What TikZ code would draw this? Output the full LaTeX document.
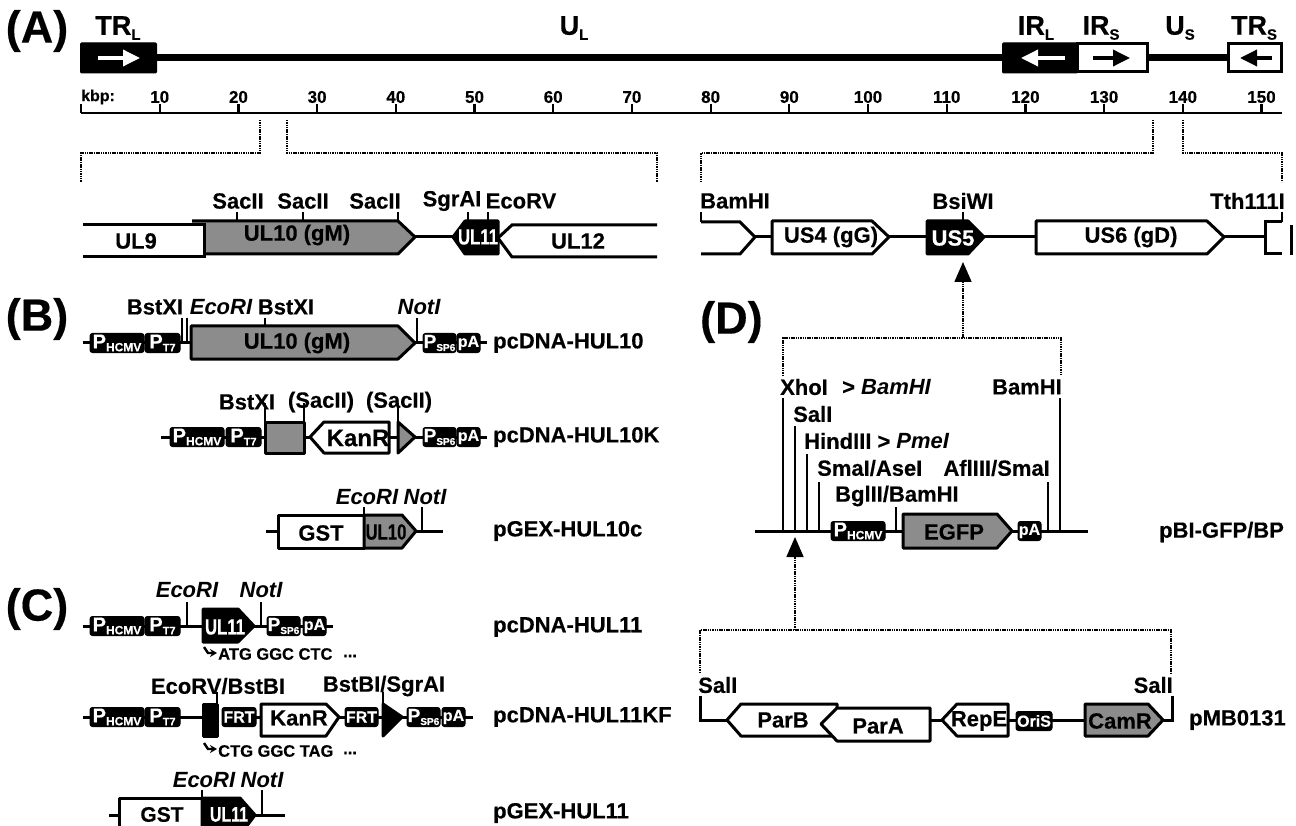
\documentclass[tikz,border=0pt]{standalone}
\usepackage{fontspec}
\setmainfont{Liberation Sans}[BoldFeatures={FakeBold=0.35}]
\newfontfamily\narrowf[FakeStretch=0.76,BoldFeatures={FakeStretch=0.76,FakeBold=0.35}]{Liberation Sans}
\usetikzlibrary{arrows.meta}
\newcount\nodeno
\newcommand\fs[1]{\fontsize{#1}{#1}\selectfont}
% generic text node: options, position, text
\newcommand\T[3][]{\global\advance\nodeno by 1
  \node[txt,#1] (t\the\nodeno) at (#2) {#3};}
% black rounded element: x1,x2,y,text
\newcommand\Bx[4]{\global\advance\nodeno by 1
  \node[blackbox,minimum width=#2pt-#1pt] (t\the\nodeno) at ({(#1+#2)/2},#3) {#4};}
\newcommand\PH[2]{\Bx{#1}{#1+54}{#2}{\fs{20}P\fs{12}\raisebox{-3pt}{HCMV}}}
\newcommand\PT[2]{\Bx{#1}{#1+35}{#2}{\fs{20}P\fs{11}\raisebox{-3pt}{T7}}}
\newcommand\PS[2]{\Bx{#1}{#1+33}{#2}{\fs{19}P\fs{10}\raisebox{-3pt}{SP6}}}
\newcommand\PA[2]{\Bx{#1}{#1+23}{#2}{\fs{16}pA}}
\tikzset{
  txt/.style={inner sep=0pt,font=\bfseries\fs{22},text=black},
  ital/.style={font=\bfseries\itshape\fs{22}},
  big/.style={font=\bfseries\fs{45}},
  top/.style={font=\bfseries\fs{27}},
  gt/.style={font=\bfseries\fs{22}},
  num/.style={font=\bfseries\fs{17}},
  sq/.style={font=\bfseries\fs{16.5},anchor=west},
  wt/.style={text=white},
  nr/.style={font=\bfseries\narrowf\fs{22}},
  blackbox/.style={fill=black,draw=black,rounded corners=2.5pt,line width=1pt,text=white,
     minimum height=19pt,inner sep=0pt,font=\bfseries},
  wire/.style={line width=3pt,line cap=butt},
  tick/.style={line width=2.2pt},
  genew/.style={draw=black,fill=white,line width=3pt,line join=round},
  geneg/.style={draw=black,fill=gry,line width=3pt,line join=round},
  geneb/.style={draw=black,fill=black,line width=3pt,line join=round},
  dots/.style={line width=1.7pt,dash pattern=on 1.5pt off 0.8pt},
  uparrow/.style={-{Triangle[length=20pt,width=17pt,fill=black]}},
}
\definecolor{gry}{HTML}{8C8C8C}
\begin{document}
\begin{tikzpicture}[x=1pt,y=-1pt]
\useasboundingbox (0,0) rectangle (1296,826);
\clip (0,0) rectangle (1296,826);
% ---------- panel letters
\T[big]{37,31}{(A)}
\T[big]{37,319}{(B)}
\T[big]{37,609}{(C)}
\T[big,anchor=west]{700,322}{(D)}
% ---------- genome map
\coordinate (ga) at (157,58); \coordinate (gb) at (1229,58);
\draw[line width=7pt] (ga) -- (gb);
\node[fill=black,draw=black,line width=1pt,rounded corners=1pt,minimum width=76pt,minimum height=30pt,inner sep=0] (trl) at (118.5,58) {};
\node[fill=black,draw=black,line width=1pt,rounded corners=1pt,minimum width=75pt,minimum height=30pt,inner sep=0] (irl) at (1040,58) {};
\node[fill=white,draw=black,line width=3pt,minimum width=70pt,minimum height=28pt,inner sep=0] (irs) at (1112,58) {};
\node[fill=white,draw=black,line width=3pt,minimum width=53pt,minimum height=28pt,inner sep=0] (trs) at (1255,58) {};
\begin{scope}[line width=3.5pt]
\draw[white,-{Triangle[length=17pt,width=16pt,fill=white]}] (98,58) -- (140,58);
\draw[white,-{Triangle[length=17pt,width=16pt,fill=white]}] (1065,58) -- (1021,58);
\draw[black,-{Triangle[length=17pt,width=16pt,fill=black]}] (1093,58) -- (1130,58);
\draw[black,-{Triangle[length=17pt,width=16pt,fill=black]}] (1272,58) -- (1240,58);
\end{scope}
\T[top]{118,28}{TR\fs{15}\raisebox{-5pt}{L}}
\T[top]{574,28}{U\fs{15}\raisebox{-5pt}{L}}
\T[top]{1036,28}{IR\fs{15}\raisebox{-5pt}{L}}
\T[top]{1101,28}{IR\fs{15}\raisebox{-5pt}{S}}
\T[top]{1180,28}{U\fs{15}\raisebox{-5pt}{S}}
\T[top]{1254,28}{TR\fs{15}\raisebox{-5pt}{S}}
% ---------- scale
\coordinate (s0) at (81,113); \coordinate (s1) at (1282,113);
\draw[tick] (s0) -- (s1);
\draw[tick] (81,104) -- (s0);
\T[font=\bfseries\fs{16},anchor=west]{81,97}{kbp:}
\foreach \k/\lbl in {1/10,2/20,3/30,4/40,5/50,6/60,7/70,8/80,9/90,10/100,11/110,12/120,13/130,14/140,15/150}{
  \draw[tick] ({81+78.7*\k},104) -- ({81+78.7*\k},113);
  \T[num]{{81+78.7*\k},97}{\lbl}
}
% ---------- dotted brackets A
\coordinate (b1) at (260,120); \coordinate (b1a) at (81,182);
\coordinate (b2) at (287,120); \coordinate (b2a) at (657,182);
\coordinate (b3) at (1153,120); \coordinate (b3a) at (701,182);
\coordinate (b4) at (1183,120); \coordinate (b4a) at (1282,182);
\draw[dots] (b1) |- (170,153) -| (b1a);
\draw[dots] (b2) |- (470,153) -| (b2a);
\draw[dots] (b3) |- (930,153) -| (b3a);
\draw[dots] (b4) |- (1230,153) -| (b4a);
% ---------- UL row
\draw[wire] (415,237) -- (453,237);
\draw[geneg] (192,221) -- (398,221) -- (415,237) -- (398,254) -- (192,254);
\fill[white] (83,224) rectangle (204,258);
\draw[line width=3pt,line join=miter] (83,225) -- (204,225) -- (204,257) -- (83,257);
\draw[geneb] (453,237) -- (465,221) -- (498,221) -- (498,254) -- (465,254) -- cycle;
\fill[white] (498,238) -- (512,224) -- (657,224) -- (657,258) -- (512,258) -- cycle;
\draw[line width=3pt,line join=miter] (657,225) -- (512,225) -- (498,238) -- (512,257) -- (657,257);
\T[gt]{136,241}{UL9}
\T[gt]{297,235}{UL10 (gM)}
\T[nr,wt]{478,237}{UL11}
\T[gt]{578,241}{UL12}
\foreach \x in {237,303,398,468,488}{\draw[tick] (\x,212) -- (\x,221);}
\T{238,201}{SacII}
\T{303,201}{SacII}
\T{375,201}{SacII}
\T{452,201}{SgrAI}
\T{521,201}{EcoRV}
% ---------- US row
\draw[wire] (755,237) -- (1265,237);
\draw[line width=3pt,line join=miter] (701,222) -- (740,222) -- (755,237) -- (740,254) -- (701,254);
\draw[genew] (772,221) -- (872,221) -- (889,237) -- (872,254) -- (772,254) -- cycle;
\draw[geneb] (927,221) -- (968,221) -- (984,237) -- (968,254) -- (927,254) -- cycle;
\draw[genew] (1036,221) -- (1207,221) -- (1224,237) -- (1207,254) -- (1036,254) -- cycle;
\draw[line width=3pt,line join=miter] (1282,222) -- (1265,222) -- (1265,254) -- (1282,254);
\draw[line width=3pt] (1291,225) -- (1291,255);
\draw[tick] (701,212) -- (701,222);
\draw[tick] (963,212) -- (963,221);
\draw[tick] (1282,212) -- (1282,222);
\T[gt]{831,237}{US4 (gG)}
\T[gt,wt]{953,238}{US5}
\T[gt]{1131,237}{US6 (gD)}
\T[anchor=west]{700,201}{BamHI}
\T{963,201}{BsiWI}
\T[anchor=east]{1285,201}{Tth111I}
% ---------- row B1
\draw[wire] (83,343) -- (487,343);
\PH{90}{343}
\PT{145}{343}
\draw[tick] (182,318) -- (182,343);
\draw[tick] (187,318) -- (187,343);
\draw[geneg] (191,326) -- (398,326) -- (415,343) -- (398,359) -- (191,359) -- cycle;
\PS{423}{343}
\PA{457}{343}
\draw[tick] (265,318) -- (265,326);
\draw[tick] (417,318) -- (417,342);
\T[gt]{297,343}{UL10 (gM)}
\T{155,307}{BstXI}
\T[ital]{221,307}{EcoRI}
\T{286,307}{BstXI}
\T[ital]{419,307}{NotI}
\T[anchor=west]{493,343}{pcDNA-HUL10}
% ---------- row B2
\draw[wire] (161,437) -- (487,437);
\PH{170}{437}
\PT{226}{437}
\draw[geneg] (265,422) -- (304,422) -- (304,453) -- (265,453) -- cycle;
\draw[genew] (310,437) -- (324,422) -- (389,422) -- (389,453) -- (324,453) -- cycle;
\draw[geneg] (398,422) -- (415,437) -- (398,453) -- cycle;
\PS{423}{437}
\PA{457}{437}
\draw[tick] (265,403) -- (265,422);
\draw[tick] (304,403) -- (304,422);
\draw[tick] (398,403) -- (398,422);
\T{247,402}{BstXI}
\T{321,402}{(SacII)}
\T{399,402}{(SacII)}
\T[font=\bfseries\fs{24}]{358,438}{KanR}
\T[anchor=west]{493,437}{pcDNA-HUL10K}
% ---------- row B3
\draw[wire] (266,531) -- (443,531);
\draw[genew] (278,515) -- (364,515) -- (364,548) -- (278,548) -- cycle;
\draw[geneg] (364,515) -- (402,515) -- (416,531) -- (402,548) -- (364,548) -- cycle;
\draw[tick] (364,507) -- (364,515);
\draw[tick] (422,507) -- (422,531);
\T[gt]{321,533}{GST}
\T[nr]{386,532}{UL10}
\T[ital]{367,497}{EcoRI}
\T[ital]{425,497}{NotI}
\T[anchor=west]{493,531}{pGEX-HUL10c}
% ---------- row C1
\draw[wire] (83,626) -- (333,626);
\PH{90}{626}
\PT{145}{626}
\draw[geneb] (203,609) -- (238,609) -- (254,626) -- (238,642) -- (203,642) -- cycle;
\PS{267}{626}
\PA{303}{626}
\draw[tick] (187,602) -- (187,626);
\draw[tick] (261,602) -- (261,626);
\T[nr,wt]{225,627}{UL11}
\T[ital]{187,590}{EcoRI}
\T[ital]{261,590}{NotI}
\draw[line width=2.4pt,-{Stealth[length=7pt,width=8pt]}] (204,647) -- (208,653) -- (217,653);
\T[sq]{218,654}{ATG GGC CTC}
\T[sq]{343,656}{...}
\T[anchor=west]{493,627}{pcDNA-HUL11}
% ---------- row C2
\draw[wire] (83,717) -- (473,717);
\PH{90}{717}
\PT{145}{717}
\draw[geneb] (203,704) -- (217,704) -- (217,736) -- (203,736) -- cycle;
\fill[white] (219,700) rectangle (222,740);
\Bx{222}{256}{717}{\fs{16}FRT}
\draw[genew] (261,704) -- (326,704) -- (339,717) -- (326,736) -- (261,736) -- cycle;
\Bx{345}{378}{717}{\fs{16}FRT}
\draw[geneb] (383,704) -- (402,717) -- (383,736) -- cycle;
\PS{407}{717}
\PA{442}{717}
\draw[tick] (217,692) -- (217,704);
\draw[tick] (383,692) -- (383,704);
\T[gt]{299,718}{KanR}
\T{218,686}{EcoRV/BstBI}
\T{384,686}{BstBI/SgrAI}
\draw[line width=2.4pt,-{Stealth[length=7pt,width=8pt]}] (204,743) -- (208,749) -- (217,749);
\T[sq]{218,751}{CTG GGC TAG}
\T[sq]{343,753}{...}
\T[anchor=west]{493,717}{pcDNA-HUL11KF}
% ---------- row C3
\draw[wire] (109,815) -- (285,815);
\draw[genew] (119,798) -- (202,798) -- (202,835) -- (119,835) -- cycle;
\draw[geneb] (202,798) -- (240,798) -- (255,815) -- (240,835) -- (202,835) -- cycle;
\draw[tick] (202,790) -- (202,798);
\draw[tick] (262,790) -- (262,815);
\T[font=\bfseries\fs{21}]{162,814.5}{GST}
\T[nr,wt,font=\bfseries\narrowf\fs{21}]{229,814.5}{UL11}
\T[ital]{204,780}{EcoRI}
\T[ital]{262,780}{NotI}
\T[anchor=west]{493,813}{pGEX-HUL11}
% ---------- panel D vector
\draw[wire] (755,531) -- (1088,531);
\foreach \x/\y in {783/398,795/426,807/454,819/482,896/507,1048/482,1060/398}{\draw[tick] (\x,\y) -- (\x,531);}
\PH{831}{531}
\draw[geneg] (903,514) -- (997,514) -- (1012,531) -- (997,548) -- (903,548) -- cycle;
\PA{1018}{531}
\T[gt]{954,532}{EGFP}
\T[anchor=west]{780,387}{XhoI}
\T[anchor=west]{842,387}{> \itshape BamHI}
\T[anchor=east]{1062,387}{BamHI}
\T[anchor=west]{793,414}{SalI}
\T[anchor=west]{804,441}{HindIII > \itshape PmeI}
\T[anchor=west]{817,468}{SmaI/AseI}
\T[anchor=east]{1050,468}{AflIII/SmaI}
\T[anchor=west]{835,496}{BglII/BamHI}
\T[anchor=west]{1159,532}{pBI-GFP/BP}
% dotted connectors D
\coordinate (d1) at (783,376); \coordinate (d2) at (1061,376); \coordinate (dm) at (963,338); \coordinate (dt) at (963,262);
\draw[dots] (d1) |- (dm) -| (d2);
\draw[dots,uparrow] (dm) -- (dt);
\coordinate (e1) at (700,673); \coordinate (e2) at (1171,673); \coordinate (em) at (795,630); \coordinate (et) at (795,537);
\draw[dots] (e1) |- (em) -| (e2);
\draw[dots,uparrow] (em) -- (et);
% ---------- pMB0131
\draw[line width=3pt,line join=miter] (700,696) |- (727,720);
\draw[wire] (930,720) -- (942,720);
\draw[wire] (1008,720) -- (1085,720);
\draw[line width=3pt,line join=miter] (1163,720) -| (1172,696);
\draw[genew] (727,720) -- (741,704) -- (837,704) -- (837,736) -- (741,736) -- cycle;
\draw[genew] (821,724) -- (837,708) -- (930,708) -- (930,741) -- (837,741) -- cycle;
\draw[genew] (942,720) -- (957,704) -- (1008,704) -- (1008,736) -- (957,736) -- cycle;
\Bx{1016}{1052}{721}{\fs{16}OriS}
\draw[geneg] (1085,704) -- (1148,704) -- (1163,720) -- (1148,736) -- (1085,736) -- cycle;
\T[gt]{783,720}{ParB}
\T[gt]{878,726}{ParA}
\T[gt]{979,721}{RepE}
\T[gt]{1120,721}{CamR}
\T[anchor=west]{698,685}{SalI}
\T[anchor=east]{1173,685}{SalI}
\T[anchor=west]{1189,720}{pMB0131}
\end{tikzpicture}
\end{document}
